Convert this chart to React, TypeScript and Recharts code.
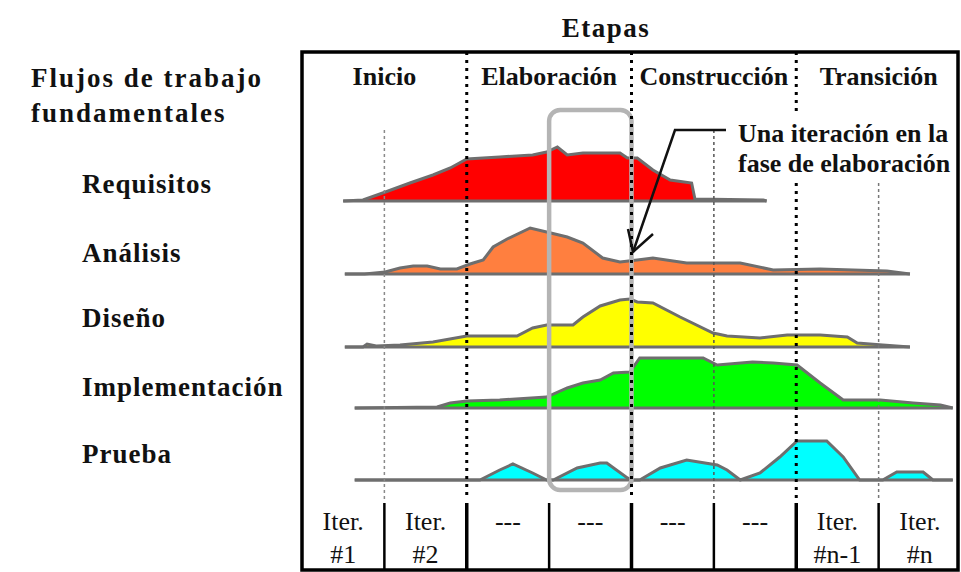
import React from 'react';
import { ComposedChart, Area, XAxis, YAxis, ReferenceLine, ReferenceArea } from 'recharts';

const SERIF = '"Liberation Serif", "Times New Roman", serif';

const PHASES = ['Inicio', 'Elaboración', 'Construcción', 'Transición'];
const ITERATIONS = [
  ['Iter.', '#1'],
  ['Iter.', '#2'],
  ['---'],
  ['---'],
  ['---'],
  ['---'],
  ['Iter.', '#n-1'],
  ['Iter.', '#n'],
];
const WORKFLOWS = ['Requisitos', 'Análisis', 'Diseño', 'Implementación', 'Prueba'];
// baseline of each workflow row and the place of its label, in effort units
const WORKFLOW_BASE = [299, 226, 153, 92, 20];
const WORKFLOW_LABEL_AT = [316, 247, 182, 113, 46];
const WORKFLOW_COLORS = ['#ff0000', '#ff7f3f', '#ffff00', '#00ff00', '#00ffff'];

// effort curves: [position in iterations, effort]
const REQUISITOS = [
  [0.5, 0], [0.74, 1], [0.98, 8], [1.31, 18], [1.59, 26], [1.8, 33], [2.0, 42], [2.4, 44],
  [2.8, 46], [2.97, 49], [3.1, 54], [3.22, 46], [3.41, 48], [3.86, 48], [3.95, 43], [4.07, 43],
  [4.26, 31], [4.47, 21], [4.73, 18], [4.77, 2], [5.6, 1], [5.64, 0],
];
const ANALISIS = [
  [0.52, 0], [0.76, 0], [1.01, 2], [1.19, 6], [1.35, 8], [1.52, 8], [1.68, 5], [1.88, 5],
  [2.04, 10], [2.2, 14], [2.32, 27], [2.49, 35], [2.77, 46], [2.97, 42], [3.22, 37], [3.41, 31],
  [3.65, 16], [3.86, 12], [4.07, 14], [4.26, 16], [4.67, 11], [5.32, 11], [5.72, 4], [6.29, 5],
  [6.69, 4], [7.1, 3], [7.38, 0],
];
const DISENO = [
  [0.52, 0], [0.74, 0], [0.79, 3], [0.9, 1], [1.19, 2], [1.59, 5], [2.0, 11], [2.61, 11],
  [2.8, 19], [2.97, 22], [3.29, 22], [3.41, 30], [3.62, 41], [3.86, 47], [3.98, 48], [4.07, 45],
  [4.26, 44], [4.59, 30], [4.99, 14], [5.16, 11], [5.56, 9], [5.89, 12], [6.29, 12], [6.62, 10],
  [6.74, 4], [7.05, 2], [7.38, 0],
];
const IMPLEMENTACION = [
  [0.64, 0], [1.64, 1], [1.8, 5], [2.0, 7], [2.4, 8], [2.97, 11], [3.22, 20], [3.41, 25],
  [3.62, 28], [3.78, 35], [3.98, 36], [4.1, 50], [4.87, 50], [5.04, 43], [5.47, 46], [5.72, 45],
  [6.01, 43], [6.29, 25], [6.57, 8], [7.02, 8], [7.42, 5], [7.75, 3], [7.9, 0],
];
const PRUEBA = [
  [0.64, 0], [2.16, 0], [2.4, 10], [2.56, 16], [2.8, 7], [2.97, 0], [3.05, 0], [3.34, 12],
  [3.62, 17], [3.7, 17], [3.95, 2], [4.02, 0], [4.1, 0], [4.35, 12], [4.67, 20], [5.04, 15],
  [5.16, 10], [5.32, 0], [5.56, 7], [5.8, 23], [6.01, 39], [6.37, 39], [6.57, 23], [6.77, 0],
  [7.05, 0], [7.22, 8], [7.54, 8], [7.66, 0], [7.9, 0],
];

const SERIES = [REQUISITOS, ANALISIS, DISENO, IMPLEMENTACION, PRUEBA].map((pts) =>
  pts.map(([x, h]) => ({ x, h }))
);

const BOTTOM_TICKS: number[] = [];
ITERATIONS.forEach((_, i) => {
  if (i > 0) BOTTOM_TICKS.push(i);
  BOTTOM_TICKS.push(i + 0.5);
});

const IterationTick = ({ x, y, payload }: any) => {
  const v = payload.value;
  if (Number.isInteger(v)) {
    const phaseEdge = v % 2 === 0;
    return (
      <line x1={x} x2={x} y1={y + 3} y2={y + 70} stroke="#000" strokeWidth={phaseEdge ? 3.5 : 2.5} />
    );
  }
  const lines = ITERATIONS[Math.floor(v)];
  return (
    <text textAnchor="middle" fontFamily={SERIF} fontSize={26} fill="#111">
      {lines.map((t, i) => (
        <tspan key={i} x={x} y={y + 30 + i * 33}>
          {t}
        </tspan>
      ))}
    </text>
  );
};

const WorkflowTick = ({ y, payload }: any) => {
  const idx = WORKFLOW_LABEL_AT.indexOf(payload.value);
  return (
    <text x={82} y={y + 9} fontFamily={SERIF} fontWeight="bold" fontSize={27} letterSpacing={1} fill="#111">
      {WORKFLOWS[idx]}
    </text>
  );
};

const PhaseShape = () => null;

export default function App() {
  const dotted = { stroke: '#000', strokeWidth: 3, strokeDasharray: '3 5' };
  const thin = { stroke: '#8a8a8a', strokeWidth: 1.5, strokeDasharray: '3 3' };
  return (
    <div style={{ position: 'absolute', left: 0, top: 0, width: 961, height: 572, background: '#fff' }}>
      <ComposedChart width={961} height={572} margin={{ top: 0, right: 0, bottom: 0, left: 0 }}>
        <XAxis
          type="number"
          dataKey="x"
          domain={[0, 8]}
          ticks={BOTTOM_TICKS}
          interval={0}
          tick={<IterationTick />}
          tickLine={false}
          axisLine={false}
          tickSize={0}
          tickMargin={0}
          height={72}
        />
        <YAxis
          type="number"
          domain={[0, 500]}
          ticks={WORKFLOW_LABEL_AT}
          interval={0}
          tick={<WorkflowTick />}
          width={302}
          axisLine={false}
          tickLine={false}
        />

        {PHASES.map((p, i) => (
          <ReferenceArea
            key={p}
            x1={i * 2}
            x2={i * 2 + 2}
            y1={0}
            y2={448}
            fill="none"
            stroke="none"
            ifOverflow="visible"
            label={{
              value: p,
              position: 'insideTop',
              offset: 15,
              fontFamily: SERIF,
              fontWeight: 'bold',
              fontSize: 26,
              fill: '#111',
            }}
          />
        ))}

        {/* iteration boundaries */}
        <ReferenceLine segment={[{ x: 1, y: 370 }, { x: 1, y: 0 }]} {...thin} ifOverflow="visible" />
        <ReferenceLine segment={[{ x: 5, y: 370 }, { x: 5, y: 0 }]} {...thin} stroke="#555" ifOverflow="visible" />
        <ReferenceLine segment={[{ x: 7, y: 317 }, { x: 7, y: 0 }]} {...thin} stroke="#777" ifOverflow="visible" />
        {/* phase boundaries */}
        <ReferenceLine segment={[{ x: 2, y: 448 }, { x: 2, y: 0 }]} {...dotted} ifOverflow="visible" />
        <ReferenceLine segment={[{ x: 4, y: 448 }, { x: 4, y: 0 }]} {...dotted} ifOverflow="visible" />
        <ReferenceLine segment={[{ x: 6, y: 448 }, { x: 6, y: 385 }]} {...dotted} ifOverflow="visible" />
        <ReferenceLine segment={[{ x: 6, y: 317 }, { x: 6, y: 0 }]} {...dotted} ifOverflow="visible" />

        {SERIES.map((data, i) => (
          <Area
            key={WORKFLOWS[i]}
            name={WORKFLOWS[i]}
            data={data}
            dataKey={(d: any) => [WORKFLOW_BASE[i], WORKFLOW_BASE[i] + d.h]}
            type="linear"
            fill={WORKFLOW_COLORS[i]}
            fillOpacity={1}
            stroke="#6e6e6e"
            strokeWidth={3}
            isAnimationActive={false}
          />
        ))}

        {/* one iteration of the elaboration phase */}
        <ReferenceArea
          x1={3}
          x2={4}
          y1={10}
          y2={390}
          ifOverflow="visible"
          shape={(p: any) => (
            <rect x={p.x} y={p.y} width={p.width} height={p.height} rx={11} fill="none" stroke="#b4b4b4" strokeWidth={4.5} />
          )}
        />
      </ComposedChart>

      <svg width={961} height={572} style={{ position: 'absolute', left: 0, top: 0, pointerEvents: 'none' }}>
        <rect x={302} y={52} width={656} height={518} fill="none" stroke="#000" strokeWidth={3.5} />
        <text x={606} y={37} textAnchor="middle" fontFamily={SERIF} fontWeight="bold" fontSize={27} letterSpacing={1.5} fill="#111">
          Etapas
        </text>
        <text x={31} y={87} fontFamily={SERIF} fontWeight="bold" fontSize={27} letterSpacing={2} fill="#111">
          Flujos de trabajo
        </text>
        <text x={31} y={122} fontFamily={SERIF} fontWeight="bold" fontSize={27} letterSpacing={2} fill="#111">
          fundamentales
        </text>
        <text x={738} y={142} fontFamily={SERIF} fontWeight="bold" fontSize={26} fill="#111">
          Una iteración en la
        </text>
        <text x={738} y={172} fontFamily={SERIF} fontWeight="bold" fontSize={26} fill="#111">
          fase de elaboración
        </text>
        <polyline points="726,130 675,130 633,252" fill="none" stroke="#111" strokeWidth={2.5} />
        <polyline points="628,229 633,252 653,234" fill="none" stroke="#111" strokeWidth={2.5} />
      </svg>
    </div>
  );
}
